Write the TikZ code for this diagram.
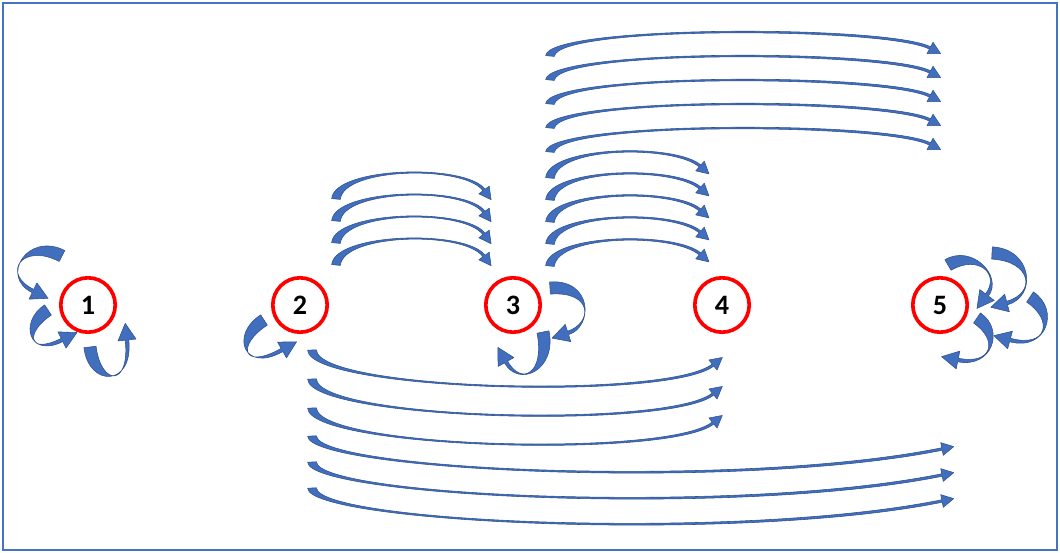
\documentclass[tikz,border=0pt]{standalone}
\usepackage{fontspec}
\setmainfont{Carlito}
\usetikzlibrary{calc,positioning}
\definecolor{RingRed}{RGB}{255,0,0}
\definecolor{ArrowBlue}{RGB}{66,110,190}
\definecolor{ArrowEdge}{RGB}{47,82,143}
\definecolor{FrameBlue}{RGB}{68,114,196}
\tikzset{
  state/.style={circle,draw=RingRed,fill=white,line width=2.6pt,
                minimum size=1.36cm,inner sep=0pt,
                font=\fontsize{20}{24}\selectfont\bfseries},
  ribbon/.style={fill=ArrowBlue,draw=ArrowEdge,line width=0.4pt,line join=round},
}
% curved block arrow: [size]{tail}{control 1}{control 2}{head}
\newcommand{\curvarr}[5][1]{%
  \coordinate (rT) at (#2); \coordinate (rA) at (#3);
  \coordinate (rB) at (#4); \coordinate (rH) at (#5);
  \filldraw[ribbon] ($(rT)!#1*3.1pt!90:(rA)$)
      .. controls ($(rA)!#1*3.1pt!-90:(rT)$) and ($(rB)!#1*0.9pt!90:(rH)$) .. ($(rH)!#1*0.9pt!-90:(rB)$)
    -- ($(rH)!#1*4.6pt!-90:(rB)$) -- ($(rH)!-#1*8.5pt!(rB)$) -- ($(rH)!#1*4.6pt!90:(rB)$)
    -- ($(rH)!#1*0.9pt!90:(rB)$)
      .. controls ($(rB)!#1*0.9pt!-90:(rH)$) and ($(rA)!#1*3.1pt!90:(rT)$) .. ($(rT)!#1*3.1pt!-90:(rA)$)
    -- cycle;}

\begin{document}
\begin{tikzpicture}[x=0.025cm,y=0.025cm]
  \useasboundingbox (0,0) rectangle (1060,553);
  \draw[FrameBlue,line width=0.8pt] (3,3) rectangle (1057,550);
  % states
  \node[state] (n1) at (88,248) {1};
  \node[state] (n2) at (300,248) {2};
  \node[state] (n3) at (513,248) {3};
  \node[state] (n4) at (722,248) {4};
  \node[state] (n5) at (940,248) {5};
  % 2 -> 3
  \foreach \k in {0,...,3}
    {\curvarr{$(n2)+(36,40+22*\k)$}{$(n2)+(39,72+22*\k)$}{$(n2)+(165,75+22*\k)$}{$(n2)+(184,49+22*\k)$}}
  % 3 -> 4
  \foreach \k in {0,...,4}
    {\curvarr{$(n3)+(37,39+22*\k)$}{$(n3)+(40,71+22*\k)$}{$(n3)+(162,73+22*\k)$}{$(n3)+(187,51+22*\k)$}}
  % 3 -> 5
  \foreach \k in {0,...,4}
    {\curvarr{$(n3)+(37,153+24*\k)$}{$(n3)+(40,184+24*\k)$}{$(n3)+(375,183+24*\k)$}{$(n3)+(417,161+24*\k)$}}
  % 2 -> 4
  \foreach \k in {0,...,2}
    {\curvarr{$(n2)+(12,-45-29*\k)$}{$(n2)+(14,-86-29*\k)$}{$(n2)+(370,-95-29*\k)$}{$(n2)+(413,-60-29*\k)$}}
  % 2 -> 5
  \foreach \k in {0,...,2}
    {\curvarr{$(n2)+(12,-131-26*\k)$}{$(n2)+(14,-166-26*\k)$}{$(n2)+(440,-185-26*\k)$}{$(n2)+(642,-144-26*\k)$}}
  % self loops
  \curvarr[1.4]{$(n1)+(-26,49)$}{$(n1)+(-63,68)$}{$(n1)+(-88,30)$}{$(n1)+(-55,14)$}
  \curvarr[1.4]{$(n1)+(-40,-5)$}{$(n1)+(-66,-22)$}{$(n1)+(-60,-52)$}{$(n1)+(-26,-35)$}
  \curvarr[1.4]{$(n1)+(2,-42)$}{$(n1)+(7,-82)$}{$(n1)+(44,-82)$}{$(n1)+(39,-35)$}
  \curvarr[1.4]{$(n2)+(-36,-15)$}{$(n2)+(-67,-35)$}{$(n2)+(-57,-67)$}{$(n2)+(-18,-45)$}
  \curvarr[1.4]{$(n3)+(37,17)$}{$(n3)+(80,20)$}{$(n3)+(80,-20)$}{$(n3)+(55,-28)$}
  \curvarr[1.4]{$(n3)+(30,-27)$}{$(n3)+(38,-67)$}{$(n3)+(7,-82)$}{$(n3)+(-7,-57)$}
  \curvarr[1.4]{$(n5)+(8,40)$}{$(n5)+(35,56)$}{$(n5)+(62,30)$}{$(n5)+(47,10)$}
  \curvarr[1.4]{$(n5)+(52,52)$}{$(n5)+(92,50)$}{$(n5)+(97,10)$}{$(n5)+(67,2)$}
  \curvarr[1.4]{$(n5)+(90,8)$}{$(n5)+(117,-10)$}{$(n5)+(107,-45)$}{$(n5)+(70,-35)$}
  \curvarr[1.4]{$(n5)+(37,-13)$}{$(n5)+(62,-30)$}{$(n5)+(52,-62)$}{$(n5)+(18,-55)$}
\end{tikzpicture}
\end{document}
